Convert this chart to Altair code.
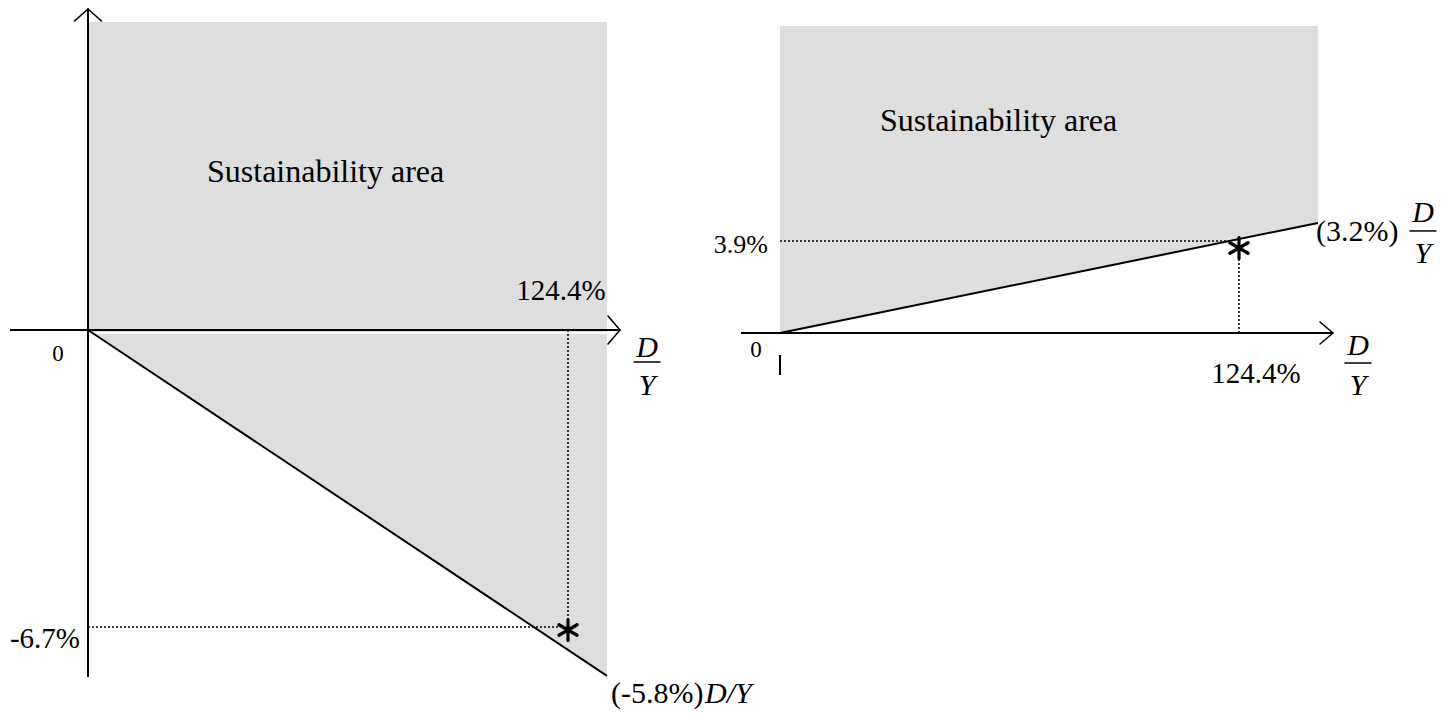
import altair as alt
import pandas as pd

# ---------------- values ----------------
panel_names = ["left", "right"]
debt_ratio = [124.4, 124.4]          # D/Y at the marked point (%)
primary_balance = [-6.7, 3.9]        # value at the marked point (%)
line_slope = [-5.8, 3.2]             # slope of the threshold line (% of D/Y)
shade_end = [134.5, 145.8]           # right edge of the shaded region (D/Y, %)
area_label = ["Sustainability area", "Sustainability area"]
origin_label = ["0", "0"]

FONT = "Liberation Serif"
GRAY = "#dedede"
INK = "black"
ASTERISK = "M0,-1L0,1M-0.866,-0.5L0.866,0.5M-0.866,0.5L0.866,-0.5"


def fmt(v):
    return f"{v:.1f}%"


class Panel:
    """A layered panel whose scales put data (0,0) at pixel (x0, y0)."""

    def __init__(self, W, H, x0, y0, kx, ky):
        self.W, self.H, self.kx, self.ky = W, H, kx, ky
        self.xs = alt.Scale(domain=[-x0 / kx, (W - x0) / kx], nice=False, zero=False)
        self.ys = alt.Scale(domain=[-(H - y0) / ky, y0 / ky], nice=False, zero=False)
        self.layers = []

    # pixel offset -> data offset
    def ox(self, px):
        return px / self.kx

    def oy(self, py):
        return -py / self.ky

    def enc(self):
        return dict(
            x=alt.X("x:Q", scale=self.xs, axis=None),
            y=alt.Y("y:Q", scale=self.ys, axis=None),
        )

    def rule(self, x1, y1, x2, y2, width=2.0, dash=None, cap="butt", color=INK):
        df = pd.DataFrame({"x": [x1], "y": [y1], "x2": [x2], "y2": [y2]})
        kw = dict(color=color, strokeWidth=width, strokeCap=cap)
        if dash:
            kw["strokeDash"] = dash
        self.layers.append(
            alt.Chart(df).mark_rule(**kw).encode(**self.enc(), x2="x2:Q", y2="y2:Q")
        )

    def line(self, xs, ys, width=2.0):
        df = pd.DataFrame({"x": xs, "y": ys, "o": list(range(len(xs)))})
        self.layers.append(
            alt.Chart(df).mark_line(color=INK, strokeWidth=width)
            .encode(**self.enc(), order="o:Q")
        )

    def area(self, xs, ys, y2s):
        df = pd.DataFrame({"x": xs, "y": ys, "y2": y2s})
        self.layers.append(
            alt.Chart(df).mark_area(color=GRAY, opacity=1, interpolate="linear")
            .encode(**self.enc(), y2="y2:Q")
        )

    def rect(self, x1, y1, x2, y2):
        df = pd.DataFrame({"x": [x1], "y": [y1], "x2": [x2], "y2": [y2]})
        self.layers.append(
            alt.Chart(df).mark_rect(color=GRAY, opacity=1)
            .encode(**self.enc(), x2="x2:Q", y2="y2:Q")
        )

    def arrow(self, x, y, wings, width=1.6):
        # wings: pixel offsets of the two wing ends from the tip
        for wx, wy in wings:
            self.rule(x, y, x + self.ox(wx), y + self.oy(wy), width=width, cap="round")

    def star(self, x, y, py=0, size=440, width=3.2):
        df = pd.DataFrame({"x": [x], "y": [y + self.oy(py)]})
        self.layers.append(
            alt.Chart(df).mark_point(shape=ASTERISK, size=size, filled=False, color=INK,
                                     strokeWidth=width, strokeCap="round", opacity=1)
            .encode(**self.enc())
        )

    def text(self, x, y, s, size, dx=0, dy=0, align="left", style="normal"):
        df = pd.DataFrame({"x": [x], "y": [y], "t": [s]})
        self.layers.append(
            alt.Chart(df).mark_text(font=FONT, fontSize=size, align=align,
                                    baseline="alphabetic", dx=dx, dy=dy,
                                    fontStyle=style, color=INK)
            .encode(**self.enc(), text="t:N")
        )

    def frac(self, x, y, size, cdx, d_dy, bar_dy, y_dy, half):
        self.text(x, y, "D", size, dx=cdx, dy=d_dy, align="center", style="italic")
        self.text(x, y, "Y", size, dx=cdx, dy=y_dy, align="center", style="italic")
        self.rule(x + self.ox(cdx - half), y + self.oy(bar_dy),
                  x + self.ox(cdx + half), y + self.oy(bar_dy), width=1.5)

    def chart(self):
        return alt.layer(*self.layers).properties(width=self.W, height=self.H)


DOT = [2, 2]

# ---------------- left panel ----------------
i = 0
L = Panel(W=700, H=704, x0=80, y0=322, kx=480 / 124.4, ky=297 / 6.7)
xe = shade_end[i]
ye = line_slope[i] / 100 * xe
top = L.oy(-308)
L.rect(0, 0, xe, top)
L.area([0, xe], [0, ye], [0, 0])
# thin white gap just under the horizontal axis
L.rule(L.ox(4), L.oy(3), xe, L.oy(3), width=2, color="white")
L.line([0, xe], [0, ye])
# dotted guides
L.rule(debt_ratio[i], 0, debt_ratio[i], primary_balance[i] + L.oy(-7), width=1.5, dash=DOT)
L.rule(0, primary_balance[i], debt_ratio[i] + L.ox(-9), primary_balance[i], width=1.5, dash=DOT)
# axes
L.rule(0, L.oy(347), 0, L.oy(-321))
L.rule(L.ox(-78), 0, L.ox(532), 0)
L.arrow(0, L.oy(-321), [(-13.5, 12), (13.5, 12)])
L.arrow(L.ox(532), 0, [(-12, -14), (-12, 14)])
# labels
L.star(debt_ratio[i], primary_balance[i], py=3)
L.text(0, 0, area_label[i], 32, dx=119, dy=-148)
L.text(debt_ratio[i], 0, fmt(debt_ratio[i]), 29, dx=-7, dy=-30, align="center")
L.text(0, 0, origin_label[i], 23, dx=-30, dy=31, align="center")
L.text(0, primary_balance[i], fmt(primary_balance[i]), 29, dx=-8, dy=21, align="right")
L.text(xe, ye, f"({fmt(line_slope[i])})", 30, dx=4, dy=27)
L.text(xe, ye, "D/Y", 30, dx=98, dy=27, style="italic")
L.frac(L.ox(532), 0, 30, cdx=27, d_dy=27, bar_dy=32, y_dy=65, half=13.5)

# ---------------- right panel ----------------
i = 1
R = Panel(W=732, H=704, x0=72, y0=325, kx=459 / 124.4, ky=92 / 3.9)
xe = shade_end[i]
ye = line_slope[i] / 100 * xe
top = R.oy(-307)
R.area([0, xe], [0, ye], [top, top])
R.line([0, xe], [0, ye])
R.rule(0, primary_balance[i], debt_ratio[i] + R.ox(-10), primary_balance[i], width=1.5, dash=DOT)
R.rule(debt_ratio[i], 0, debt_ratio[i], primary_balance[i] + R.oy(15), width=1.5, dash=DOT)
R.rule(R.ox(-39), 0, R.ox(553), 0)
R.rule(0, R.oy(22), 0, R.oy(42))
R.arrow(R.ox(553), 0, [(-13, -11), (-13, 11)])
R.star(debt_ratio[i], primary_balance[i], py=7)
R.text(0, 0, area_label[i], 32, dx=100, dy=-202)
R.text(0, primary_balance[i], fmt(primary_balance[i]), 26, dx=-12, dy=12, align="right")
R.text(debt_ratio[i], 0, fmt(debt_ratio[i]), 29, dx=17, dy=50, align="center")
R.text(0, 0, origin_label[i], 23, dx=-24, dy=24, align="center")
R.text(xe, ye, f"({fmt(line_slope[i])})", 30, dx=-2, dy=18)
R.frac(xe, ye, 30, cdx=105, d_dy=-1, bar_dy=8, y_dy=40, half=13.5)
R.frac(R.ox(553), 0, 30, cdx=25, d_dy=22, bar_dy=30, y_dy=62, half=13.5)

chart = (
    alt.hconcat(L.chart(), R.chart(), spacing=0, bounds="flush")
    .properties(padding=0)
    .configure_view(stroke=None)
)

chart.save("out.html", embed_options={"renderer": "svg", "actions": False})
